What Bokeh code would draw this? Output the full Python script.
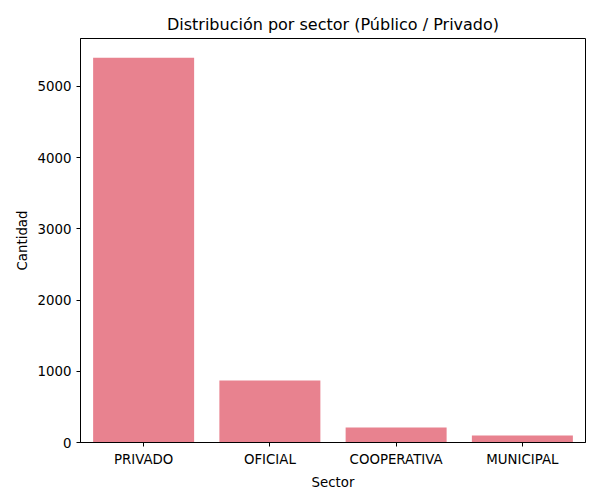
from bokeh.plotting import figure
from bokeh.models import ColumnDataSource, Range1d
from bokeh.embed import file_html
from bokeh.resources import INLINE

sectores = ["PRIVADO", "OFICIAL", "COOPERATIVA", "MUNICIPAL"]
cantidades = [5405, 870, 210, 98]

source = ColumnDataSource(data=dict(sector=sectores, cantidad=cantidades))

p = figure(x_range=sectores, y_range=Range1d(0, 5674),
           frame_width=505, frame_height=404,
           min_border_left=80, min_border_right=7, min_border_top=38, min_border_bottom=42,
           title="Distribución por sector (Público / Privado)",
           toolbar_location=None, tools="", output_backend="svg")

p.vbar(x='sector', top='cantidad', width=0.8, source=source,
       fill_color="#e8828f", line_color=None)

font = "DejaVu Sans"
p.title.align = "center"
p.title.text_font = font
p.title.text_font_size = "12pt"
p.title.text_font_style = "normal"
p.title.text_color = "black"
p.xgrid.grid_line_color = None
p.ygrid.grid_line_color = None
p.outline_line_color = "black"
p.xaxis.axis_label = "Sector"
p.yaxis.axis_label = "Cantidad"
for ax in (p.xaxis, p.yaxis):
    ax.axis_label_text_font = font
    ax.axis_label_text_font_style = "normal"
    ax.axis_label_text_font_size = "10pt"
    ax.axis_label_text_color = "black"
    ax.major_label_text_font = font
    ax.major_label_text_font_size = "10pt"
    ax.major_label_text_color = "black"
    ax.axis_line_color = "black"
    ax.major_tick_line_color = "black"
    ax.major_tick_out = 4
    ax.major_tick_in = 0
    ax.minor_tick_line_color = None
p.yaxis.ticker = [0, 1000, 2000, 3000, 4000, 5000]

open("out.html", "w").write(file_html(p, INLINE))
